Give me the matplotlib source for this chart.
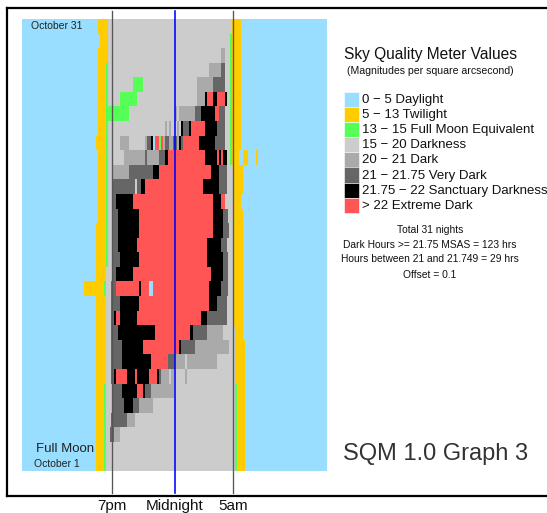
import matplotlib
matplotlib.use("Agg")
import matplotlib.pyplot as plt
from matplotlib.patches import Rectangle
from matplotlib.lines import Line2D

plt.rcParams['font.family'] = ['Liberation Sans', 'DejaVu Sans']

# ---------------- data ----------------
categories = ["0 \u2212 5 Daylight", "5 \u2212 13 Twilight", "13 \u2212 15 Full Moon Equivalent",
              "15 \u2212 20 Darkness", "20 \u2212 21 Dark", "21 \u2212 21.75 Very Dark",
              "21.75 \u2212 22 Sanctuary Darkness", "> 22 Extreme Dark"]
colors = ["#99DDFF", "#FFCC00", "#55FF55", "#CCCCCC", "#AAAAAA", "#666666", "#000000", "#FF5555"]

# time axis in clock hours (12 = noon, 24 = midnight, 36 = next noon)
t_start, t_end = 12.0, 36.0
line_times = [19.08, 24.04, 28.60]
tick_labels = ["7pm", "Midnight", "5am"]

# runs per night: (start hour, SQM class index); night 0 = October 1 ... night 30 = October 31
night_runs = [
    [(12, 0), (17.82, 1), (18.45, 2), (18.61, 3), (28.76, 2), (28.92, 1), (29.55, 0)],
    [(12, 0), (17.82, 1), (18.45, 2), (18.61, 3), (28.76, 2), (28.92, 1), (29.55, 0)],
    [(12, 0), (17.82, 1), (18.45, 2), (18.61, 3), (18.92, 5), (19.24, 4), (19.71, 3), (28.76, 2), (28.92, 1), (29.55, 0)],
    [(12, 0), (17.82, 1), (18.45, 2), (18.61, 3), (19.00, 5), (20.26, 4), (20.89, 3), (28.76, 2), (28.92, 1), (29.55, 0)],
    [(12, 0), (17.82, 1), (18.45, 2), (18.61, 3), (19.08, 5), (20.03, 6), (20.73, 5), (21.21, 4), (22.31, 3), (28.76, 2), (28.92, 1), (29.55, 0)],
    [(12, 0), (17.82, 1), (18.45, 2), (18.61, 3), (19.08, 5), (19.87, 6), (21.05, 7), (21.52, 6), (21.68, 5), (22.15, 4), (23.96, 3), (28.76, 2), (28.92, 1), (29.55, 0)],
    [(12, 0), (17.82, 1), (18.61, 3), (19.00, 5), (19.24, 6), (19.40, 7), (20.26, 6), (20.89, 7), (21.05, 6), (21.99, 7), (22.62, 6), (22.78, 5), (22.94, 4), (23.57, 3), (23.72, 4), (23.96, 3), (24.82, 4), (24.98, 3), (28.76, 1), (29.55, 0)],
    [(12, 0), (17.82, 1), (18.61, 3), (19.00, 5), (19.87, 6), (22.15, 7), (23.49, 5), (24.04, 4), (24.82, 3), (24.98, 4), (27.34, 3), (28.76, 1), (29.55, 0)],
    [(12, 0), (17.82, 1), (18.61, 3), (19.00, 5), (19.87, 6), (21.52, 7), (24.35, 6), (24.51, 5), (25.61, 4), (28.29, 3), (28.76, 1), (29.55, 0)],
    [(12, 0), (17.82, 1), (18.61, 3), (19.00, 5), (19.55, 6), (22.46, 7), (25.22, 6), (25.45, 5), (26.56, 4), (27.81, 3), (28.76, 1), (29.39, 0)],
    [(12, 0), (17.82, 1), (18.61, 3), (19.00, 5), (19.24, 6), (19.40, 7), (19.71, 6), (21.05, 7), (26.08, 6), (26.56, 5), (28.13, 3), (28.60, 2), (28.68, 1), (29.39, 0)],
    [(12, 0), (17.82, 1), (18.61, 3), (19.00, 5), (19.71, 6), (21.21, 7), (26.71, 6), (27.34, 5), (28.13, 3), (28.60, 2), (28.68, 1), (29.39, 0)],
    [(12, 0), (16.88, 1), (18.45, 2), (18.61, 3), (19.00, 5), (19.40, 7), (21.21, 6), (21.36, 7), (21.99, 0), (22.31, 7), (26.71, 6), (27.66, 5), (28.21, 3), (28.60, 2), (28.68, 1), (29.39, 0)],
    [(12, 0), (17.82, 1), (18.61, 3), (19.08, 5), (19.40, 6), (20.73, 7), (26.87, 6), (27.81, 5), (28.21, 3), (28.60, 2), (28.68, 1), (29.39, 0)],
    [(12, 0), (17.82, 1), (18.63, 2), (18.74, 3), (19.08, 5), (19.71, 6), (21.21, 7), (26.56, 6), (27.81, 5), (28.21, 3), (28.60, 2), (28.68, 1), (29.39, 0)],
    [(12, 0), (17.82, 1), (18.63, 2), (18.74, 3), (19.08, 5), (19.55, 6), (21.05, 7), (26.56, 6), (27.66, 5), (28.13, 3), (28.60, 2), (28.68, 1), (29.39, 0)],
    [(12, 0), (17.82, 1), (18.63, 2), (18.74, 3), (19.08, 5), (19.55, 6), (21.21, 7), (27.03, 6), (27.81, 5), (28.29, 3), (28.60, 2), (28.68, 1), (29.39, 0)],
    [(12, 0), (17.96, 1), (18.63, 2), (18.74, 3), (19.08, 5), (19.55, 6), (21.21, 7), (27.03, 6), (27.81, 5), (28.21, 3), (28.63, 1), (29.39, 0)],
    [(12, 0), (17.96, 1), (18.63, 2), (18.74, 3), (19.08, 5), (19.40, 6), (20.73, 7), (27.03, 6), (27.66, 7), (27.97, 3), (28.63, 1), (29.23, 0)],
    [(12, 0), (17.96, 1), (18.63, 2), (18.74, 3), (19.08, 5), (20.89, 3), (21.05, 5), (21.36, 6), (21.68, 7), (26.24, 6), (27.50, 5), (28.13, 3), (28.63, 1), (29.39, 0)],
    [(12, 0), (17.96, 1), (18.63, 2), (18.74, 3), (19.16, 4), (20.42, 5), (22.31, 6), (22.78, 7), (26.87, 6), (27.50, 5), (28.13, 3), (28.63, 1), (29.39, 0)],
    [(12, 0), (17.96, 1), (18.63, 2), (18.74, 3), (20.03, 4), (21.68, 5), (21.81, 4), (22.78, 5), (23.25, 6), (23.49, 7), (26.40, 6), (27.32, 7), (27.50, 6), (27.63, 7), (27.79, 6), (28.10, 3), (28.39, 2), (28.50, 1), (29.07, 0), (29.39, 1), (29.78, 0), (30.41, 1), (30.57, 0)],
    [(12, 0), (17.82, 1), (18.63, 2), (18.74, 3), (19.71, 4), (20.42, 3), (21.68, 4), (21.83, 5), (22.15, 6), (22.31, 0), (22.46, 7), (22.78, 2), (22.94, 7), (23.09, 4), (23.25, 5), (23.57, 4), (23.88, 5), (24.20, 4), (24.35, 6), (24.51, 5), (24.67, 7), (25.93, 6), (27.19, 5), (27.97, 3), (28.39, 2), (28.50, 1), (29.23, 0)],
    [(12, 0), (17.96, 1), (18.63, 2), (18.74, 3), (23.25, 4), (23.39, 3), (23.57, 4), (23.70, 3), (24.20, 4), (24.35, 3), (24.51, 6), (24.67, 5), (25.14, 6), (25.30, 7), (26.40, 6), (27.34, 5), (27.97, 3), (28.39, 2), (28.50, 1), (29.23, 0)],
    [(12, 0), (17.96, 1), (18.63, 2), (20.42, 3), (24.04, 4), (24.17, 3), (24.35, 4), (25.61, 5), (26.08, 6), (27.19, 7), (27.50, 5), (27.97, 3), (28.39, 2), (28.50, 1), (29.23, 0)],
    [(12, 0), (17.96, 1), (18.63, 2), (18.74, 3), (19.71, 2), (21.02, 3), (25.77, 4), (26.40, 6), (26.56, 7), (27.03, 6), (27.32, 7), (27.97, 6), (28.13, 3), (28.39, 2), (28.50, 1), (29.23, 0)],
    [(12, 0), (17.96, 1), (18.63, 2), (18.74, 3), (20.73, 2), (21.52, 3), (25.77, 4), (27.03, 5), (27.97, 3), (28.39, 2), (28.50, 1), (29.23, 0)],
    [(12, 0), (17.96, 1), (18.63, 2), (18.74, 3), (26.71, 4), (27.63, 5), (27.97, 3), (28.39, 2), (28.50, 1), (29.23, 0)],
    [(12, 0), (17.96, 1), (18.74, 3), (27.63, 4), (27.97, 3), (28.39, 2), (28.50, 1), (29.23, 0)],
    [(12, 0), (18.14, 1), (18.74, 3), (28.39, 2), (28.50, 1), (29.23, 0)],
    [(12, 0), (17.96, 1), (18.74, 3), (28.50, 1), (29.23, 0)],
]

stats_lines = ["Total 31 nights", "Dark Hours >= 21.75 MSAS = 123 hrs",
               "Hours between 21 and 21.749 = 29 hrs", "Offset = 0.1"]

# ---------------- figure ----------------
W, H = 547, 513
fig = plt.figure(figsize=(W / 100, H / 100), dpi=100)


def fx(px):
    return px / W


def fy(py):
    return 1 - py / H


ax = fig.add_axes([fx(22), fy(471), fx(327) - fx(22), fy(19) - fy(471)])
for r, runs in enumerate(night_runs):
    for k, (t, lev) in enumerate(runs):
        t2 = runs[k + 1][0] if k + 1 < len(runs) else t_end
        ax.barh(r, t2 - t, left=t, height=1.0, color=colors[lev], linewidth=0, antialiased=False)
ax.set_xlim(t_start, t_end)
ax.set_ylim(-0.5, len(night_runs) - 0.5)
for s in ax.spines.values():
    s.set_visible(False)
ax.set_yticks([])
ax.set_xticks(line_times, tick_labels, fontsize=11)
ax.tick_params(axis='x', length=0, pad=20, colors='#111111')

line_cols = ["#555555", "#0000FF", "#555555"]
line_w = [0.95, 1.15, 0.95]
for t, c, lw in zip(line_times, line_cols, line_w):
    ax.axvline(t, ymin=-0.048, ymax=1.018, color=c, lw=lw, clip_on=False, zorder=5)

# labels inside the chart
fig.text(fx(31), fy(26), "October 31", fontsize=7.5, color="#222222", va='center', ha='left')
fig.text(fx(65), fy(449), "Full Moon", fontsize=9.5, color="#222222", va='center', ha='center')
fig.text(fx(56.5), fy(464), "October 1", fontsize=7.5, color="#222222", va='center', ha='center')

# outer frame
for (x0, y0, x1, y1) in [(7, 7.5, 547, 7.5), (7, 7.5, 7, 495.5), (7, 495.5, 547, 495.5)]:
    fig.add_artist(Line2D([fx(x0), fx(x1)], [fy(y0), fy(y1)], color='black', lw=1.6,
                          transform=fig.transFigure))

# legend
fig.text(fx(430), fy(54), "Sky Quality Meter Values", fontsize=11.2, ha='center', va='center', color='#111111')
fig.text(fx(430), fy(70.5), "(Magnitudes per square arcsecond)", fontsize=7.6, ha='center', va='center', color='#111111')
ph = 15.1
for i, (lab, col) in enumerate(zip(categories, colors)):
    ytop = 92 + i * ph
    fig.add_artist(Rectangle((fx(344), fy(ytop + ph)), fx(359) - fx(344), ph / H,
                             facecolor=col, edgecolor='white', lw=0.4, transform=fig.transFigure))
    fig.text(fx(362), fy(ytop + ph / 2 + 0.5), lab, fontsize=9.5, ha='left', va='center', color='#111111')

for i, s in enumerate(stats_lines):
    fig.text(fx(430), fy(229.5 + i * 15), s, fontsize=7.4, ha='center', va='center', color='#111111')

fig.text(fx(436), fy(454), "SQM 1.0 Graph 3", fontsize=17, ha='center', va='center', color='#333333')

fig.savefig("out.png", dpi=100)
